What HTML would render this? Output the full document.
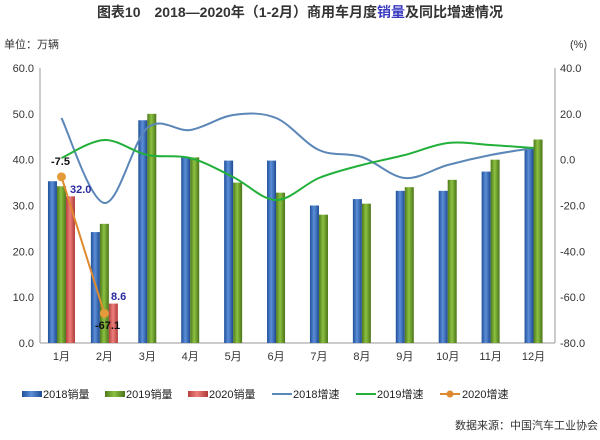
<!DOCTYPE html><html><head><meta charset="utf-8"><style>
body{margin:0;background:#fff;width:600px;height:435px;overflow:hidden}
svg text{font-family:"Liberation Sans","Noto Sans CJK SC",sans-serif}
</style></head><body>
<svg id="s" width="600" height="435" xmlns="http://www.w3.org/2000/svg">
<defs>
<linearGradient id="gb" x1="0" x2="1"><stop offset="0" stop-color="#1f4f9a"/><stop offset=".45" stop-color="#5c8fd8"/><stop offset="1" stop-color="#1e4b92"/></linearGradient>
<linearGradient id="gg" x1="0" x2="1"><stop offset="0" stop-color="#4f7a1c"/><stop offset=".45" stop-color="#8cc142"/><stop offset="1" stop-color="#4a7318"/></linearGradient>
<linearGradient id="gr" x1="0" x2="1"><stop offset="0" stop-color="#b8403c"/><stop offset=".45" stop-color="#ec807c"/><stop offset="1" stop-color="#b03a36"/></linearGradient>
</defs>
<text x="300" y="17" text-anchor="middle" font-size="14" font-weight="bold" fill="#333">图表10　2018—2020年（1-2月）商用车月度<tspan fill="#3a3ac0">销量</tspan>及同比增速情况</text>
<text x="4" y="48" font-size="11" fill="#333">单位：万辆</text>
<text x="570" y="48" font-size="11" fill="#333">(%)</text>
<g id="g"></g>
<g font-size="11" fill="#222">
<rect x="22" y="391" width="20" height="6" fill="url(#gb)"/><text x="43" y="398">2018销量</text>
<rect x="105" y="391" width="20" height="6" fill="url(#gg)"/><text x="126" y="398">2019销量</text>
<rect x="188" y="391" width="20" height="6" fill="url(#gr)"/><text x="209" y="398">2020销量</text>
<line x1="272" y1="394" x2="292" y2="394" stroke="#5b86b8" stroke-width="2"/><text x="293" y="398">2018增速</text>
<line x1="356" y1="394" x2="376" y2="394" stroke="#22b03a" stroke-width="2"/><text x="377" y="398">2019增速</text>
<line x1="440" y1="394" x2="460" y2="394" stroke="#e08a30" stroke-width="2"/><circle cx="450" cy="394" r="3.5" fill="#e08a30"/><text x="462" y="398">2020增速</text>
<text x="455" y="429" font-size="11" fill="#333">数据来源：中国汽车工业协会</text>
</g>
</svg>
<script>
var g=document.getElementById('g'),h='';
var L=40,R=555,T=68,B=343,cw=(R-L)/12;
function yl(v){return B-v*(B-T)/60}
function yr(v){return T+(40-v)*(B-T)/120}
for(var i=0;i<=6;i++){var v=i*10,y=yl(v);h+='<text x="34" y="'+(y+4)+'" text-anchor="end" font-size="11" fill="#333">'+v.toFixed(1)+'</text>';}
for(var i=0;i<=6;i++){var v=40-i*20,y=T+i*(B-T)/6;h+='<text x="560" y="'+(y+4)+'" font-size="11" fill="#333">'+v.toFixed(1)+'</text>';}
h+='<line x1="'+L+'" y1="'+T+'" x2="'+L+'" y2="'+B+'" stroke="#999"/><line x1="'+R+'" y1="'+T+'" x2="'+R+'" y2="'+B+'" stroke="#999"/><line x1="'+L+'" y1="'+B+'" x2="'+R+'" y2="'+B+'" stroke="#999"/>';
var a=[35.3,24.2,48.6,40.5,39.8,39.8,30,31.4,33.2,33.2,37.4,42.5],b=[34.2,26,50,40.5,35,32.8,28,30.4,34,35.6,40,44.4],c=[32,8.6];
var w=9;
for(var i=0;i<12;i++){var cx=L+cw*(i+.5);h+='<text x="'+cx+'" y="360" text-anchor="middle" font-size="11" fill="#333">'+(i+1)+'月</text>';
var x0=i<2?cx-1.5*w:cx-w;
h+='<rect x="'+x0+'" y="'+yl(a[i])+'" width="'+w+'" height="'+(B-yl(a[i]))+'" fill="url(#gb)"/>';
h+='<rect x="'+(x0+w)+'" y="'+yl(b[i])+'" width="'+w+'" height="'+(B-yl(b[i]))+'" fill="url(#gg)"/>';
if(i<2)h+='<rect x="'+(x0+2*w)+'" y="'+yl(c[i])+'" width="'+w+'" height="'+(B-yl(c[i]))+'" fill="url(#gr)"/>';}
function curve(ys,col){var p=ys.map(function(y,i){return [L+cw*(i+.5),y]});var d='M'+p[0];
for(var i=0;i<p.length-1;i++){var p0=p[i-1]||p[i],p1=p[i],p2=p[i+1],p3=p[i+2]||p2;
d+=' C'+(p1[0]+(p2[0]-p0[0])/6)+','+(p1[1]+(p2[1]-p0[1])/6)+' '+(p2[0]-(p3[0]-p1[0])/6)+','+(p2[1]-(p3[1]-p1[1])/6)+' '+p2;}
return '<path d="'+d+'" fill="none" stroke="'+col+'" stroke-width="2"/>';}
h+=curve([118,203,128,130,115,118,150,157,178,165,155,148],'#5b86b8');
h+=curve([158,140,155,158,177,200,178,165,155,143,145,148],'#22b03a');
var p1=[L+cw*.5,yr(-7.5)],p2=[L+cw*1.5,yr(-67.1)];
h+='<line x1="'+p1[0]+'" y1="'+p1[1]+'" x2="'+p2[0]+'" y2="'+p2[1]+'" stroke="#e08a30" stroke-width="2"/><circle cx="'+p1[0]+'" cy="'+p1[1]+'" r="4.5" fill="#e59a3a"/><circle cx="'+p2[0]+'" cy="'+p2[1]+'" r="4.5" fill="#e59a3a"/>';
h+='<text x="51" y="165" font-size="11" font-weight="bold" fill="#111">-7.5</text><text x="70" y="193" font-size="11" font-weight="bold" fill="#2a2aa0">32.0</text><text x="111" y="300" font-size="11" font-weight="bold" fill="#2a2aa0">8.6</text><text x="95" y="329" font-size="11" font-weight="bold" fill="#111">-67.1</text>';
g.innerHTML=h;
</script>
</body></html>
